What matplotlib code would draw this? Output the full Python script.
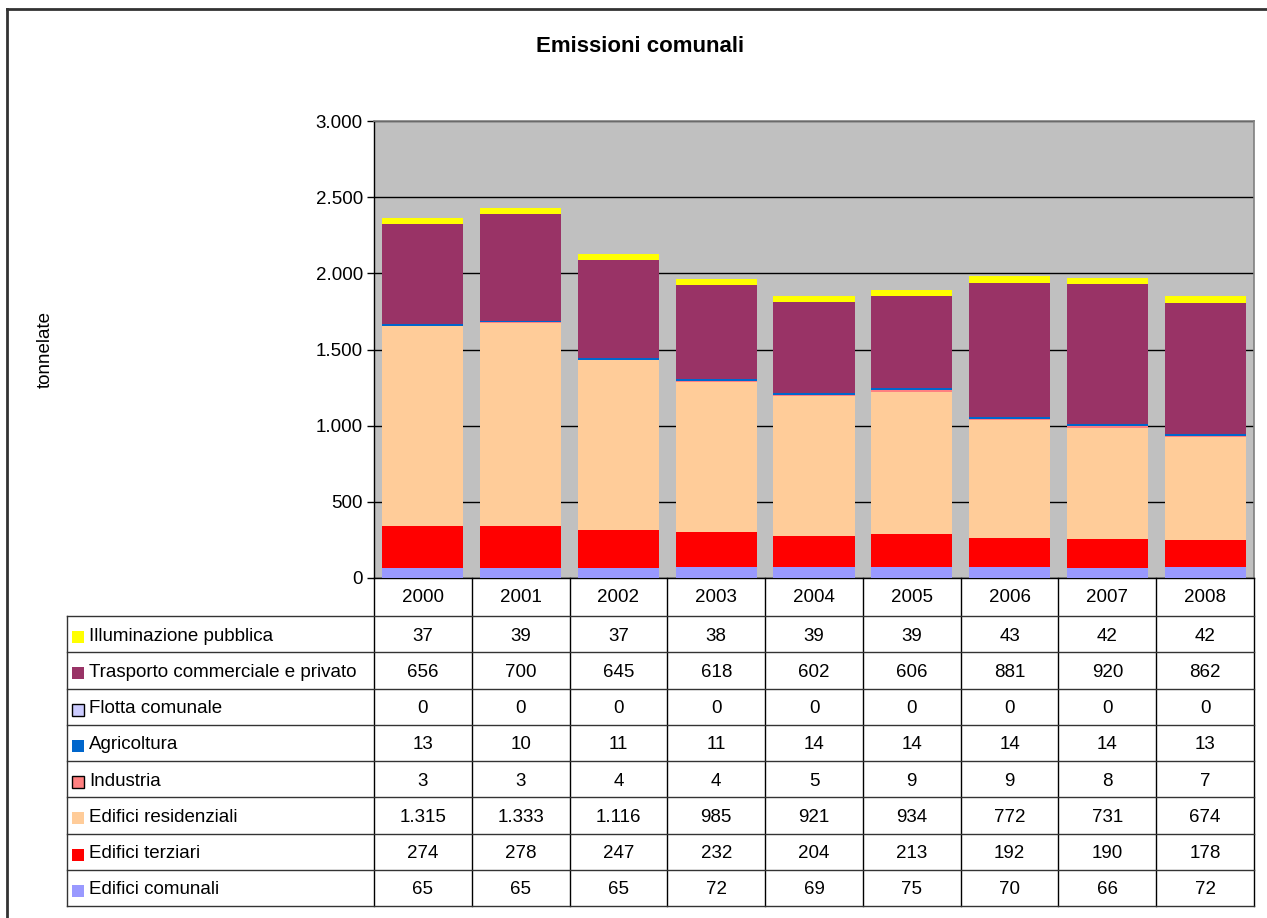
import matplotlib
matplotlib.use("Agg")
import matplotlib.pyplot as plt
from matplotlib.lines import Line2D
from matplotlib.patches import Rectangle
from matplotlib.ticker import FuncFormatter
from matplotlib.transforms import blended_transform_factory

plt.rcParams['font.family'] = ['Liberation Sans', 'DejaVu Sans']

years = ['2000', '2001', '2002', '2003', '2004', '2005', '2006', '2007', '2008']
edifici_comunali = [65, 65, 65, 72, 69, 75, 70, 66, 72]
edifici_terziari = [274, 278, 247, 232, 204, 213, 192, 190, 178]
edifici_residenziali = [1315, 1333, 1116, 985, 921, 934, 772, 731, 674]
industria = [3, 3, 4, 4, 5, 9, 9, 8, 7]
agricoltura = [13, 10, 11, 11, 14, 14, 14, 14, 13]
flotta_comunale = [0, 0, 0, 0, 0, 0, 0, 0, 0]
trasporto = [656, 700, 645, 618, 602, 606, 881, 920, 862]
illuminazione = [37, 39, 37, 38, 39, 39, 43, 42, 42]

# stacking order bottom -> top
series = [
    ("Edifici comunali", edifici_comunali, "#9999FF", False),
    ("Edifici terziari", edifici_terziari, "#FF0000", False),
    ("Edifici residenziali", edifici_residenziali, "#FFCC99", False),
    ("Industria", industria, "#FF8080", True),
    ("Agricoltura", agricoltura, "#0066CC", False),
    ("Flotta comunale", flotta_comunale, "#CCCCFF", True),
    ("Trasporto commerciale e privato", trasporto, "#993366", False),
    ("Illuminazione pubblica", illuminazione, "#FFFF00", False),
]

W, H = 1267, 918
fig = plt.figure(figsize=(W / 100, H / 100), dpi=100)

def fx(px):
    return px / W

def fy(py):
    return 1 - py / H

ax_left, ax_right, ax_top, ax_bot = 374, 1254, 121, 578
ax = fig.add_axes([fx(ax_left), fy(ax_bot), fx(ax_right - ax_left), (ax_bot - ax_top) / H])
ax.set_facecolor("#C0C0C0")

fs = 13.5

x = list(range(len(years)))
bottom = [0] * len(years)
for name, vals, col, edged in series:
    ax.bar(x, vals, width=0.83, bottom=bottom, color=col, linewidth=0, zorder=3)
    bottom = [b + v for b, v in zip(bottom, vals)]

ax.set_xlim(-0.5, len(years) - 0.5)
ax.set_ylim(0, 3000)
ax.set_yticks(range(0, 3001, 500))
ax.yaxis.set_major_formatter(FuncFormatter(lambda v, p: f"{int(v):,}".replace(",", ".")))
ax.tick_params(axis='y', direction='out', length=5, width=1, labelsize=fs, pad=3)
ax.tick_params(axis='x', length=0, labelbottom=False)
ax.yaxis.grid(True, color="black", linewidth=1, zorder=1)
ax.set_axisbelow(True)
for s in ['top', 'right']:
    ax.spines[s].set_color("#808080")
    ax.spines[s].set_linewidth(1.2)
for s in ['left', 'bottom']:
    ax.spines[s].set_color("black")
    ax.spines[s].set_linewidth(1)

# title and y label
fig.text(fx(640), fy(47), "Emissioni comunali", ha='center', va='center',
         fontsize=16, fontweight='bold')
fig.text(fx(45), fy(350), "tonnelate", ha='center', va='center', rotation=90, fontsize=fs)

# data table
row_lines = [578, 616] + [616 + (906 - 616) * k / 8 for k in range(1, 9)]
tr = blended_transform_factory(ax.transData, fig.transFigure)
lab_left = 67
# vertical lines between columns
for i in range(len(years) + 1):
    fig.add_artist(Line2D([i - 0.5, i - 0.5], [fy(578), fy(906)], transform=tr,
                          color="black", linewidth=1))
# horizontal lines
for py in row_lines[1:]:
    fig.add_artist(Line2D([fx(lab_left), fx(ax_right)], [fy(py), fy(py)],
                          transform=fig.transFigure, color="#333333", linewidth=1))
fig.add_artist(Line2D([fx(lab_left), fx(lab_left)], [fy(616), fy(906)],
                      transform=fig.transFigure, color="#333333", linewidth=1))

# header row
for i, yr in enumerate(years):
    fig.text(i, fy((578 + 616) / 2 + 1), yr, transform=tr, ha='center', va='center', fontsize=fs)

# rows top -> bottom (reverse stacking order)
for r, (name, vals, col, edged) in enumerate(reversed(series)):
    top = row_lines[r + 1]
    bot = row_lines[r + 2]
    yc = (top + bot) / 2 + 2
    sq = 12
    fig.add_artist(Rectangle((fx(72), fy(yc + 1 + sq / 2)), sq / W, sq / H,
                             transform=fig.transFigure, facecolor=col,
                             edgecolor="black" if edged else col,
                             linewidth=1 if edged else 0))
    fig.text(fx(89), fy(yc), name, ha='left', va='center', fontsize=fs)
    for i, v in enumerate(vals):
        fig.text(i, fy(yc), f"{v:,}".replace(",", "."), transform=tr,
                 ha='center', va='center', fontsize=fs)

# outer chart border (top and left visible)
fig.add_artist(Line2D([fx(7), fx(W)], [fy(9), fy(9)], transform=fig.transFigure,
                      color="#333333", linewidth=2))
fig.add_artist(Line2D([fx(7), fx(7)], [fy(9), fy(H)], transform=fig.transFigure,
                      color="#333333", linewidth=2))

fig.savefig("out.png", dpi=100)
